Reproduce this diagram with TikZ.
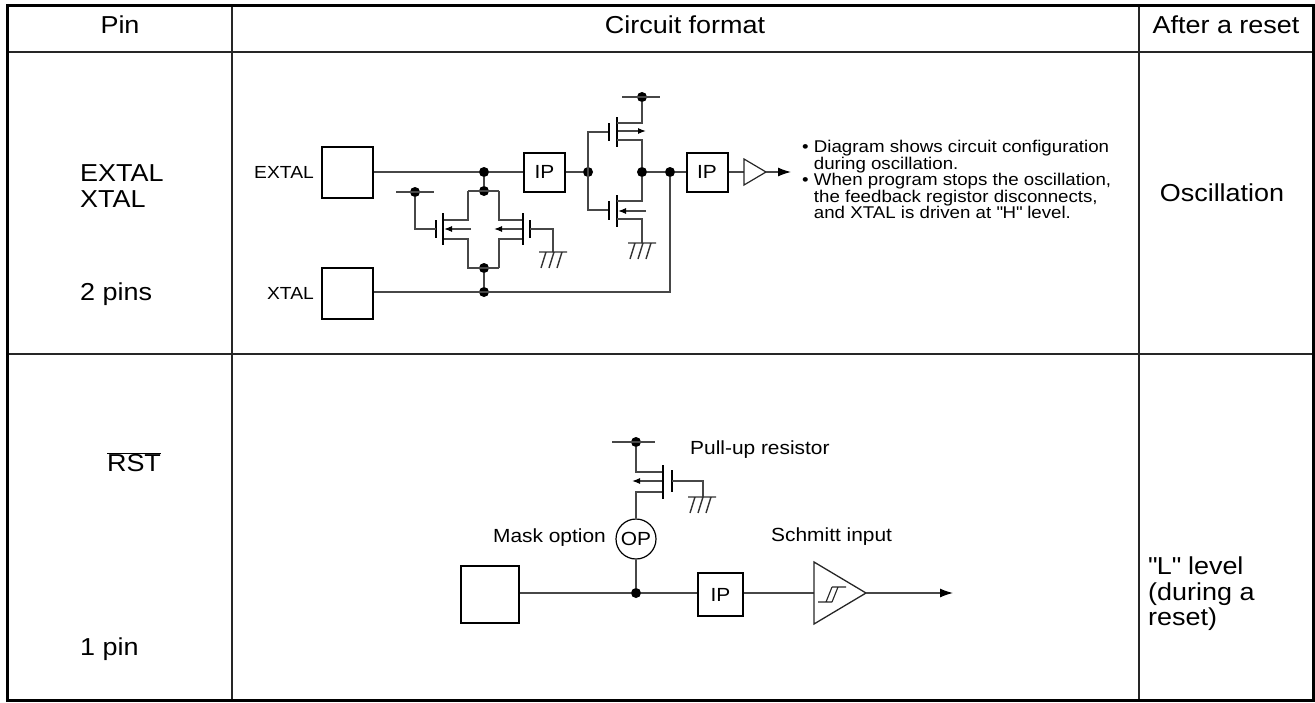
\documentclass[tikz,border=0pt]{standalone}
\usepackage{fontspec}
\setmainfont{Liberation Sans}[FakeStretch=1.1]
\usetikzlibrary{arrows.meta}
\newcommand{\fbig}{\fontsize{24.5}{29}\selectfont}
\newcommand{\fmid}{\fontsize{19}{23}\selectfont}
\newcommand{\fsm}{\fontsize{17.5}{21}\selectfont}
\newcommand{\fip}{\fontsize{19}{23}\selectfont}
\newcommand{\fnote}{\fontsize{17}{16.5}\selectfont}
\newcommand{\qq}{\textquotedbl}
\tikzset{
  frame/.style={line width=2pt, draw=black},
  grid/.style={line width=1.5pt, draw=black!85},
  wire/.style={line width=1.2pt, draw=black!72},
  plate/.style={line width=2.4pt, draw=black},
  pad/.style={draw, line width=2pt, inner sep=0pt, minimum width=51pt, minimum height=51pt},
  ipbox/.style={draw, line width=2pt, inner sep=0pt, minimum width=41pt, minimum height=39pt, font=\fip},
  dot/.style={circle, fill=black, inner sep=0pt, minimum size=10pt},
  txt/.style={inner sep=0pt, text height=0.716em, text depth=0pt},
  tip/.style={-{Latex[length=13pt,width=9pt,color=black]}},
  btip/.style={-{Latex[length=8pt,width=6pt,color=black]}},
  gnd/.pic={\draw[wire,line width=1.4pt,draw=black!80] (-14,0)--(14,0) (-7,0)--(-12,16) (1,0)--(-4,16) (9,0)--(4,16);}
}
\begin{document}
\begin{tikzpicture}[x=1pt,y=-1pt]
\useasboundingbox (0,0) rectangle (1315,702);
% ---------- table ----------
\draw[grid] (232,5)--(232,700) (1139,5)--(1139,700);
\draw[grid,line width=2pt] (7,52)--(1313,52) (7,354)--(1313,354);
\draw[frame,line width=3pt] (7,5) rectangle (1313,700);
\node[txt,font=\fbig] (hPin) at (120,30) {Pin};
\node[txt,font=\fbig] (hCir) at (685,30) {Circuit format};
\node[txt,font=\fbig] (hAft) at (1226,30) {After a reset};
\node[txt,font=\fbig,anchor=west] (p1) at (80,178) {EXTAL};
\node[txt,font=\fbig,anchor=west] (p2) at (80,204) {XTAL};
\node[txt,font=\fbig,anchor=west] (p3) at (80,297) {2 pins};
\node[txt,font=\fbig] (r1) at (1222,198) {Oscillation};
\node[txt,font=\fbig] (p4) at (134,468) {$\overline{\mbox{RST}}$};
\node[txt,font=\fbig,anchor=west] (p5) at (80,652) {1 pin};
\node[txt,font=\fbig,anchor=west] (r2a) at (1148,571) {\qq L\qq{} level};
\node[txt,font=\fbig,anchor=west] (r2b) at (1148,597) {(during a};
\node[txt,font=\fbig,anchor=west] (r2c) at (1148,622) {reset)};
% ---------- oscillator circuit ----------
\node[pad] (padE) at (347.5,172.5) {};
\node[pad] (padX) at (347.5,293.5) {};
\node[txt,font=\fsm,anchor=east] (lE) at (314,175) {EXTAL};
\node[txt,font=\fsm,anchor=east] (lX) at (314,296) {XTAL};
\node[ipbox] (ip1) at (544.5,172) {IP};
\node[ipbox] (ip2) at (707,172) {IP};
\node[dot] (j1) at (484,172) {};
\node[dot] (tt) at (484,191) {};
\node[dot] (tb) at (484,268) {};
\node[dot] (jx) at (484,292) {};
\node[dot] (g1) at (415,192) {};
\node[dot] (j2) at (588,172) {};
\node[dot] (j3) at (642,172) {};
\node[dot] (j4) at (670,172) {};
\node[dot] (vd) at (642,97) {};
\coordinate (xr) at (670,292);
\draw[wire] (padE.east |- j1) -- (j1) -- (ip1.west);
\draw[wire] (j1) -- (tt);
\draw[wire] (468,191) -- (499,191);
\draw[wire] (468,191)--(468,220)--(443,220) (443,239)--(468,239)--(468,268)--(499,268);
\draw[wire] (499,191)--(499,220)--(523,220) (523,239)--(499,239)--(499,268);
\draw[wire] (tb) -- (jx);
\draw[plate] (443,213)--(443,245) (436,220)--(436,238);
\draw[plate] (523,213)--(523,245) (530,220)--(530,238);
\draw[wire,btip] (471,229) -- (444,229);
\draw[wire,btip] (522,229) -- (494,229);
\draw[wire] (436,229)--(415,229)--(g1);
\draw[wire] (396,192)--(434,192);
\draw[wire] (530,229)--(553,229)--(553,252);
\pic at (553,252) {gnd};
\draw[wire] (ip1.east) -- (j2);
\draw[wire] (609,132)--(588,132)--(588,210)--(609,210);
\draw[plate] (609,123)--(609,141) (617,117)--(617,147);
\draw[plate] (609,201)--(609,220) (617,195)--(617,227);
\draw[wire] (617,123)--(642,123)--(vd);
\draw[wire] (622,97)--(660,97);
\draw[wire,btip] (618,131)--(646,131);
\draw[wire] (617,140)--(642,140)--(j3);
\draw[wire] (617,201)--(642,201)--(j3);
\draw[wire] (617,219)--(642,219)--(642,243);
\pic at (642,243) {gnd};
\draw[wire,btip] (646,211)--(618,211);
\draw[wire] (j3) -- (j4) -- (ip2.west);
\draw[wire] (j4) -- (xr) -- (padX.east |- xr);
\draw[wire] (ip2.east) -- (744,172);
\draw[line width=1.2pt, draw=black!85] (744,159)--(766,172)--(744,185)--cycle;
\draw[wire,tip] (766,172) -- (791,172);
\node[font=\fnote, anchor=north west, inner sep=0pt, align=left] (note) at (802,140)
  {\textbullet\ Diagram shows circuit configuration\\
   \hphantom{\textbullet\ }during oscillation.\\
   \textbullet\ When program stops the oscillation,\\
   \hphantom{\textbullet\ }the feedback registor disconnects,\\
   \hphantom{\textbullet\ }and XTAL is driven at \qq H\qq{} level.};
% ---------- reset circuit ----------
\node[pad, minimum width=58pt, minimum height=57pt] (padR) at (490,594.5) {};
\node[dot] (j5) at (636,593) {};
\node[ipbox, minimum width=45pt, minimum height=43pt] (ip3) at (720.5,594.5) {IP};
\node[circle, draw, line width=1.2pt, minimum size=40pt, inner sep=0pt, font=\fmid] (op) at (636,539) {OP};
\node[dot] (vr) at (636,442) {};
\node[txt,font=\fmid,anchor=east] (lm) at (606,539) {Mask option};
\node[txt,font=\fmid,anchor=west] (lp) at (690,451) {Pull-up resistor};
\node[txt,font=\fmid,anchor=west] (ls) at (771,538) {Schmitt input};
\draw[wire] (padR.east |- j5) -- (j5) -- (ip3.west |- j5);
\draw[wire] (op.south) -- (j5);
\draw[wire] (op.north) -- (636,492) -- (663,492);
\draw[wire] (663,472) -- (636,472) -- (vr);
\draw[wire] (612,442) -- (655,442);
\draw[plate] (663,465)--(663,499) (672,470)--(672,492);
\draw[wire,btip] (662,481)--(632,481);
\draw[wire] (672,481)--(703,481)--(703,497);
\pic at (702,497) {gnd};
\draw[wire] (ip3.east |- j5) -- (814,593);
\draw[line width=1.3pt, draw=black!85] (814,562)--(866,593)--(814,624)--cycle;
\draw[line width=1.1pt, draw=black!85] (818,602)--(832,602) (826,602)--(832,587) (832,602)--(838,587) (832,587)--(846,587);
\draw[wire,tip] (866,593) -- (953,593);
\end{tikzpicture}
\end{document}
